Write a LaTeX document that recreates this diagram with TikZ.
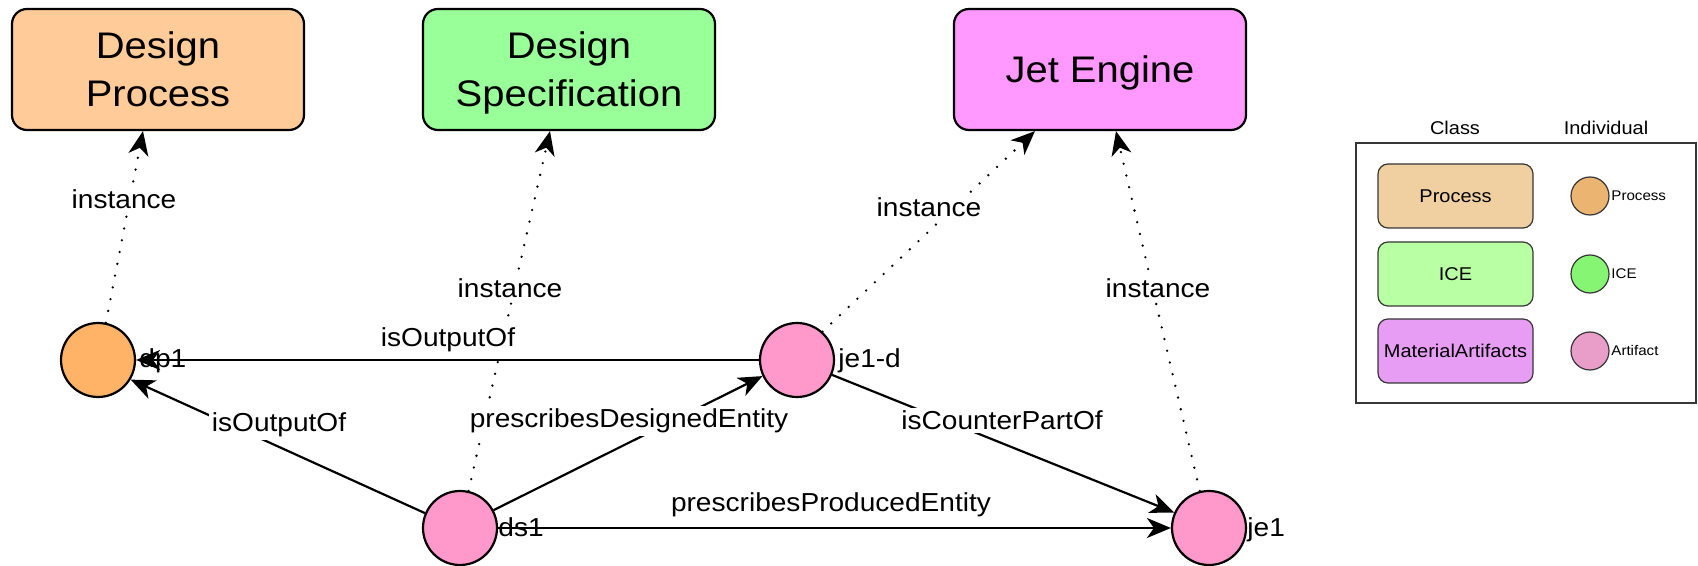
\documentclass[tikz,border=0pt]{standalone}
\usepackage{fontspec}
\setmainfont{Liberation Sans}[FakeStretch=1.08]
\usetikzlibrary{arrows.meta}

\definecolor{dpfill}{HTML}{FFCC99}
\definecolor{dsfill}{HTML}{99FF99}
\definecolor{jefill}{HTML}{FF99FF}
\definecolor{procind}{HTML}{FFB366}
\definecolor{artind}{HTML}{FF99CC}
\definecolor{legproc}{HTML}{F0CFA0}
\definecolor{legice}{HTML}{B9FFA3}
\definecolor{legart}{HTML}{E89DF5}
\definecolor{legprocind}{HTML}{EBB470}
\definecolor{legiceind}{HTML}{86F573}
\definecolor{legartind}{HTML}{E89EC8}
\definecolor{legline}{HTML}{363636}

\begin{document}
\begin{tikzpicture}[x=0.5pt,y=-0.5pt,
  classbox/.style={draw, line width=1.1pt, rounded corners=7.5pt,
    minimum width=146pt, minimum height=60.5pt, inner sep=0pt,
    align=center, font=\fontsize{18.5}{24}\selectfont},
  indiv/.style={circle, draw, line width=1.1pt, minimum size=37pt, inner sep=0pt},
  nlabel/.style={anchor=base west, inner sep=0pt, font=\fontsize{13}{15}\selectfont},
  elabel/.style={anchor=base, fill=white, inner sep=1.5pt, font=\fontsize{13}{15}\selectfont},
  tipstyle/.style={-{Stealth[length=12pt,width=10pt,inset=3.5pt]}},
  rel/.style={line width=1.1pt, tipstyle},
  inst/.style={line width=1.3pt, dash pattern=on 0pt off 6pt, line cap=round, tipstyle},
  legrect/.style={draw=legline, line width=0.6pt, rounded corners=5pt,
    minimum width=77.5pt, minimum height=32pt, inner sep=0pt,
    font=\fontsize{9.25}{11}\selectfont},
  legcirc/.style={circle, draw=legline, line width=0.6pt, minimum size=19pt, inner sep=0pt},
  legtxt/.style={anchor=base, inner sep=0pt, font=\fontsize{9.25}{11}\selectfont},
  legsmall/.style={anchor=base west, inner sep=0pt, font=\fontsize{7}{8}\selectfont}]

\useasboundingbox (0,0) rectangle (1698,566);

% class boxes
\node[classbox, fill=dpfill] (dp) at (158,69.5) {Design\\Process};
\node[classbox, fill=dsfill] (ds) at (569,69.5) {Design\\\raisebox{0pt}[\height][0pt]{Specification}};
\node[classbox, fill=jefill] (je) at (1100,69.5) {\raisebox{0pt}[\height][0pt]{Jet Engine}};

% individuals
\node[indiv, fill=procind] (dp1) at (98,360) {};
\node[indiv, fill=artind] (ds1) at (460,528) {};
\node[indiv, fill=artind] (jed) at (797,360) {};
\node[indiv, fill=artind] (je1) at (1209,528) {};

\node[nlabel] (dp1t) at (139,368) {dp1};
\node[nlabel] (ds1t) at (498,537) {ds1};
\node[nlabel] (jedt) at (838,368) {je1-d};
\node[nlabel] (je1t) at (1247,537) {je1};

% relations between individuals
\draw[rel] (jed.west) -- (dp1.east);
\draw[rel] (ds1.157) -- (dp1.-31);
\draw[rel] (ds1.28) -- (jed.205);
\draw[rel] (jed.-23) -- (je1.156);
\draw[rel] (ds1.east) -- (je1.west);

% instance-of links
\draw[inst] (dp1.78) -- ([xshift=-7.5pt]dp.south);
\draw[inst] (ds1.77) -- ([xshift=-9.5pt]ds.south);
\draw[inst] (jed.48) -- ([xshift=-32.5pt]je.south);
\draw[inst] (je1.104) -- ([xshift=8pt]je.south);

% edge labels
\node[elabel] (l1) at (448,347) {isOutputOf};
\node[elabel] (l2) at (279,432) {isOutputOf};
\node[elabel] (l3) at (629,428) {prescribesDesignedEntity};
\node[elabel] (l4) at (1002,430) {isCounterPartOf};
\node[elabel] (l5) at (831,512) {prescribesProducedEntity};
\node[elabel] (i1) at (124,209) {instance};
\node[elabel] (i2) at (510,298) {instance};
\node[elabel] (i3) at (929,217) {instance};
\node[elabel] (i4) at (1158,298) {instance};

% legend
\node[legtxt] (lgc) at (1455,135) {Class};
\node[legtxt] (lgi) at (1606,135) {Individual};
\draw[draw=legline, line width=0.75pt] (1356,143) rectangle (1696,403);
\node[legrect, fill=legproc] (lr1) at (1455.5,196) {Process};
\node[legrect, fill=legice] (lr2) at (1455.5,274) {ICE};
\node[legrect, fill=legart] (lr3) at (1455.5,351) {MaterialArtifacts};
\node[legcirc, fill=legprocind] (lc1) at (1590,196) {};
\node[legcirc, fill=legiceind] (lc2) at (1590,274) {};
\node[legcirc, fill=legartind] (lc3) at (1590,351) {};
\node[legsmall] (lt1) at (1611,201) {Process};
\node[legsmall] (lt2) at (1611,279) {ICE};
\node[legsmall] (lt3) at (1611,356) {Artifact};
\end{tikzpicture}
\end{document}
